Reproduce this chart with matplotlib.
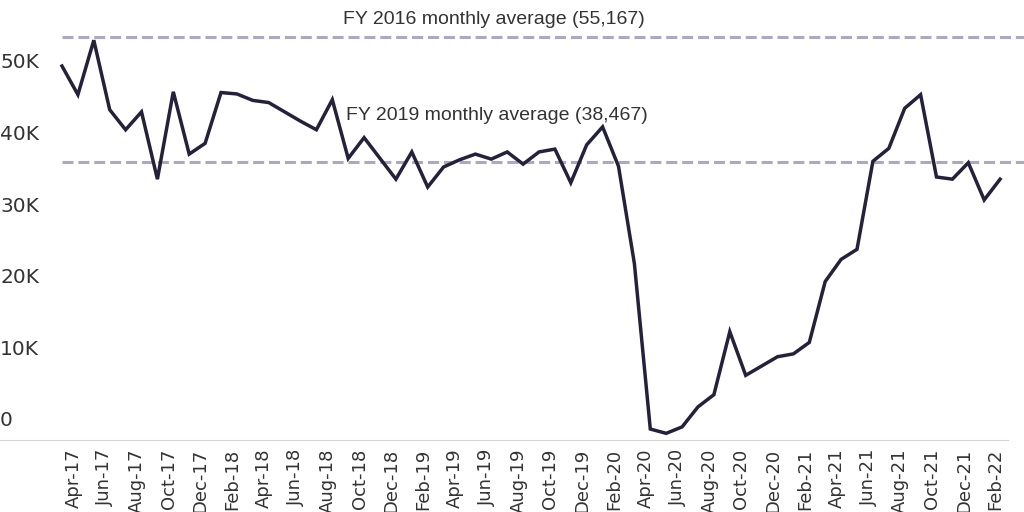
import numpy as np
import matplotlib
matplotlib.use("Agg")
import matplotlib.pyplot as plt
import matplotlib.transforms as mtransforms

# DATA (monthly, Apr-17 .. Mar-22, thousands)
bulan = ["Apr", "May", "Jun", "Jul", "Aug", "Sep", "Oct", "Nov", "Dec", "Jan", "Feb", "Mar"]
nilai = [
    52.3, 48.3, 55.9, 46.2, 43.4, 45.9, 36.5, 48.7, 40.0, 41.5, 48.6, 48.4,
    47.5, 47.2, 45.9, 44.6, 43.4, 47.6, 39.4, 42.3, 39.4, 36.5, 40.3, 35.4,
    38.2, 39.2, 40.0, 39.3, 40.3, 38.6, 40.3, 40.7, 36.0, 41.3, 43.8, 38.3,
    24.7, 1.6, 1.0, 1.9, 4.7, 6.4, 15.2, 9.1, 10.4, 11.7, 12.1, 13.7,
    22.2, 25.3, 26.7, 39.0, 40.8, 46.4, 48.3, 36.8, 36.5, 38.8, 33.6, 36.5,
]
rata_fy16 = 56.4   # garis putus-putus seperti di gambar
rata_fy19 = 38.9
label_fy16 = "FY 2016 monthly average (55,167)"
label_fy19 = "FY 2019 monthly average (38,467)"
y_ticks = [0, 10, 20, 30, 40, 50]
y_labels = ["0", "10K", "20K", "30K", "40K", "50K"]

# label bulan
label_x = []
for i in range(len(nilai)):
    b = bulan[i % 12]
    th = 17 + (i + 3) // 12
    label_x.append(f"{b}-{th}")

W, H = 1024, 512
fig = plt.figure(figsize=(W / 100, H / 100), dpi=100)
ax = fig.add_axes([0, (H - 440.5) / H, 1, 440.5 / H])

px_per_month = 15.9
x0_px = 62
ax.set_xlim(-x0_px / px_per_month, (W - x0_px) / px_per_month)
ax.set_ylim(0, 440.5 / 7.16)

x = np.arange(len(nilai))
WARNA_GARIS = "#24213a"
WARNA_RATA = "#aca8c2"

ax.hlines([rata_fy16, rata_fy19], 0, (W - x0_px) / px_per_month,
          colors=WARNA_RATA, linewidth=2.2, linestyles=(0, (3.6, 1.6)), zorder=2)
ax.plot(x, nilai, color=WARNA_GARIS, linewidth=2.5, solid_joinstyle="miter", zorder=3)

# garis sumbu bawah
ax.axhline(0, xmin=0, xmax=1008 / W, color="#d4d4d4", linewidth=1.5, zorder=1)

for s in ax.spines.values():
    s.set_visible(False)
ax.set_yticks([])

# label sumbu y di atas garis
for v, lab in zip(y_ticks, y_labels):
    ax.annotate(lab, xy=(0, v), xycoords=("axes fraction", "data"),
                xytext=(0, 10), textcoords="offset pixels",
                ha="left", va="bottom", fontsize=14.5, color="#333333",
                family="DejaVu Sans")

# label sumbu x
ax.set_xticks(x[::2])
ax.set_xticklabels(label_x[::2], rotation=90, fontsize=13, color="#333333",
                   family="DejaVu Sans")
ax.tick_params(axis="x", length=0, pad=6)
geser = mtransforms.ScaledTranslation(11.5 / 100, 0, fig.dpi_scale_trans)
for t in ax.get_xticklabels():
    t.set_transform(t.get_transform() + geser)

# anotasi
ax.text(343 / px_per_month - x0_px / px_per_month, (440.5 - 19.7) / 7.16, label_fy16,
        ha="left", va="center", fontsize=14, color="#333333", family="Liberation Sans")
ax.text(346 / px_per_month - x0_px / px_per_month, (440.5 - 115) / 7.16, label_fy19,
        ha="left", va="center", fontsize=14, color="#333333", family="Liberation Sans")

fig.savefig("out.png", dpi=100)
